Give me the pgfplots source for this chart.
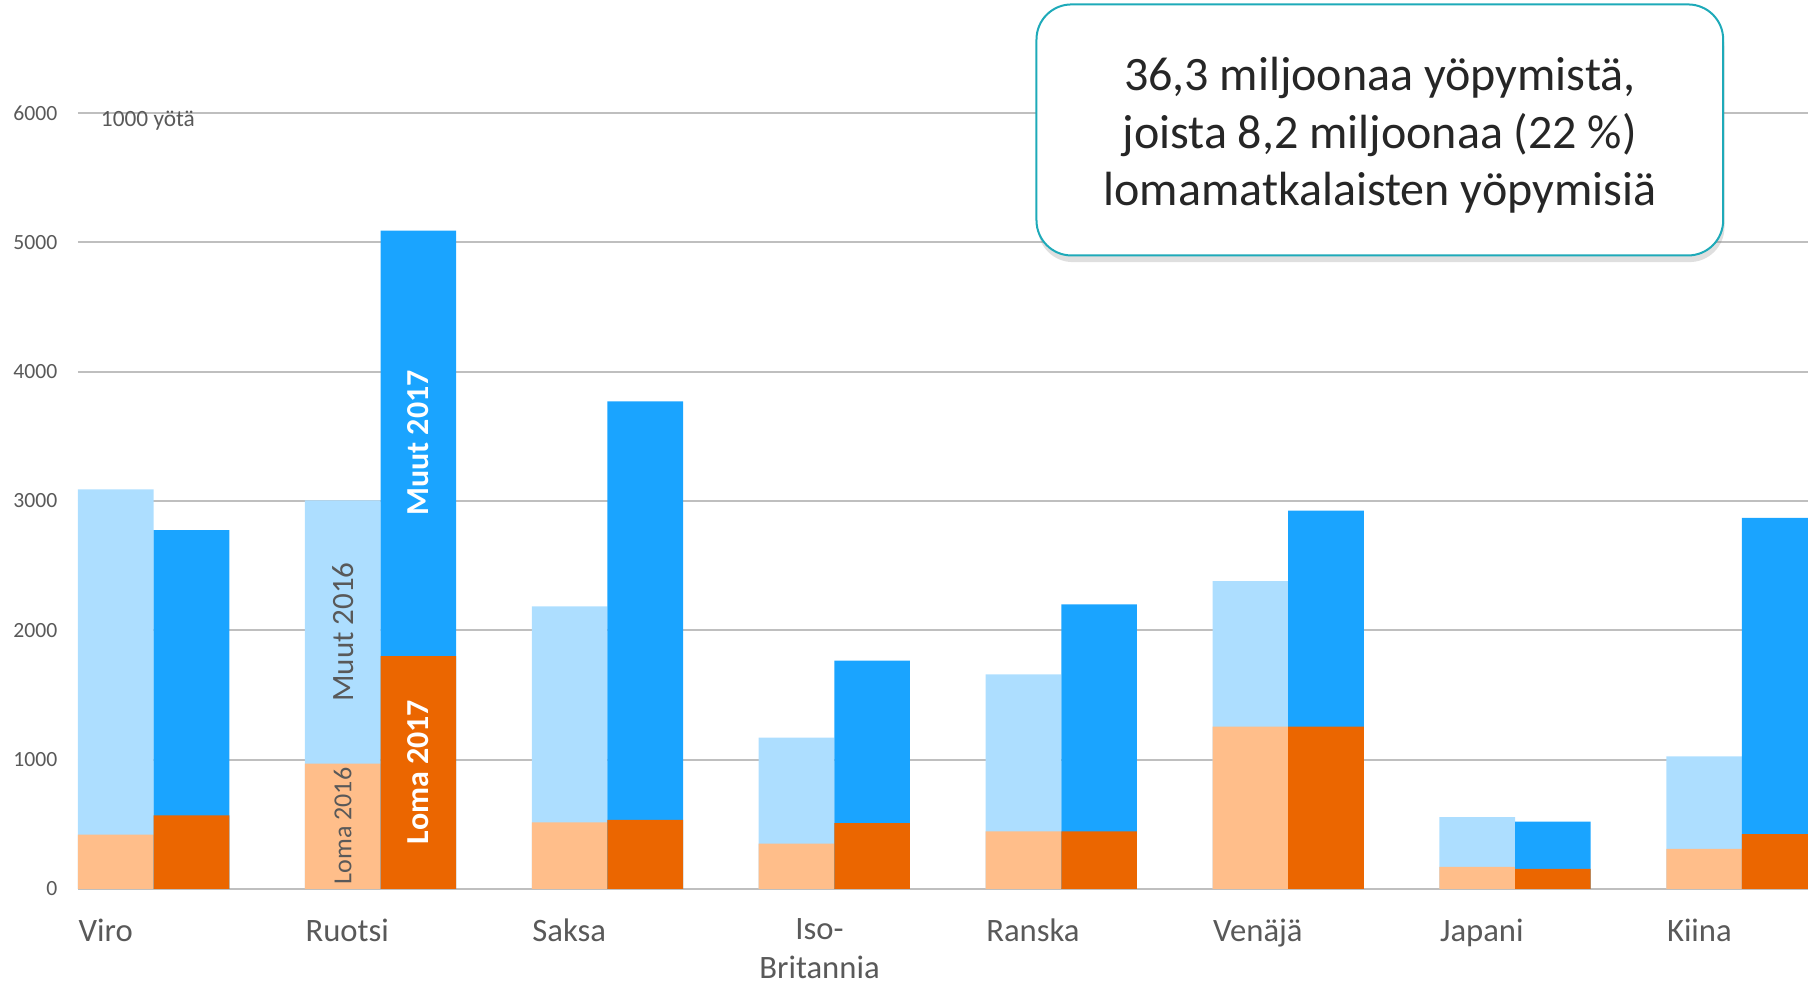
\documentclass[border=0pt]{standalone}
\usepackage{fontspec}
\setmainfont{Carlito}
\usepackage{pgfplots}
\pgfplotsset{compat=1.18}
\usetikzlibrary{shadows}

\definecolor{lblue}{RGB}{173,222,255}
\definecolor{dblue}{RGB}{26,164,255}
\definecolor{lorange}{RGB}{255,190,138}
\definecolor{dorange}{RGB}{235,102,0}
\definecolor{txtgray}{RGB}{89,89,89}
\definecolor{gridgray}{RGB}{191,191,191}
\definecolor{boxteal}{RGB}{30,170,185}

\begin{document}
\begin{tikzpicture}
\begin{axis}[
  name=ax, at={(0,0)}, anchor=south west,
  scale only axis, width=519pt, height=232.8pt,
  xmin=-0.3333, xmax=7.291, ymin=0, ymax=6000,
  clip mode=individual,
  axis line style={draw=none}, major tick length=0pt, tick style={draw=none},
  ytick={0,1000,...,6000},
  ymajorgrids, grid style={gridgray, line width=0.6pt},
  /pgf/number format/assume math mode=true,
  /pgf/number format/1000 sep={},
  yticklabel style={font=\fontsize{6.5}{7}\selectfont, text=txtgray,
                    anchor=east, inner sep=0pt, xshift=-6pt},
  xtick={-0.3333,0.6667,1.6667,2.6667,3.6667,4.6667,5.6667,6.6667},
  xticklabels={Viro,Ruotsi,Saksa,{Iso-\\Britannia},Ranska,Venäjä,Japani,Kiina},
  xticklabel style={font=\fontsize{9.8}{11.6}\selectfont, text=txtgray,
                    anchor=north west, align=center, inner sep=0pt, yshift=-8.7pt},
  ybar, bar width=0.3333,
]
% 2016: total (Loma + Muut) and Loma part
\addplot[fill=lblue, draw=none, bar shift=0pt] coordinates {
  (-0.1667,3090) (0.8333,3005) (1.8333,2185) (2.8333,1170)
  (3.8333,1660) (4.8333,2380) (5.8333,555) (6.8333,1025)};
\addplot[fill=lorange, draw=none, bar shift=0pt] coordinates {
  (-0.1667,420) (0.8333,970) (1.8333,515) (2.8333,350)
  (3.8333,445) (4.8333,1255) (5.8333,170) (6.8333,310)};
% 2017: total and Loma part
\addplot[fill=dblue, draw=none, bar shift=0pt] coordinates {
  (0.1667,2775) (1.1667,5090) (2.1667,3770) (3.1667,1765)
  (4.1667,2200) (5.1667,2925) (6.1667,520) (7.1667,2870)};
\addplot[fill=dorange, draw=none, bar shift=0pt] coordinates {
  (0.1667,570) (1.1667,1800) (2.1667,535) (3.1667,510)
  (4.1667,445) (5.1667,1255) (6.1667,155) (7.1667,425)};

\node[anchor=base west, inner sep=0pt, text=txtgray, font=\fontsize{7}{8}\selectfont]
  at (axis cs:-0.235,5892) {1000 yötä};

\node[rotate=90, text=txtgray, font=\fontsize{9.3}{10}\selectfont]
  at (axis cs:0.8333,1987) {Muut 2016};
\node[rotate=90, text=txtgray, font=\fontsize{7.8}{9}\selectfont]
  at (axis cs:0.8333,487) {Loma 2016};
\node[rotate=90, text=white, font=\bfseries\fontsize{9.6}{10}\selectfont]
  at (axis cs:1.1667,3449) {Muut 2017};
\node[rotate=90, text=white, font=\bfseries\fontsize{9.6}{10}\selectfont]
  at (axis cs:1.1667,905) {Loma 2017};

\node[draw=boxteal, line width=0.6pt, fill=white, rounded corners=10.5pt,
      minimum width=206pt, minimum height=75.3pt,
      drop shadow={shadow xshift=0.4pt, shadow yshift=-2pt, opacity=0.25}]
  at (axis cs:5.404,5869) {};
\node[align=center, text=black!85, font=\fontsize{14.4}{17.3}\selectfont, yshift=-1.6pt]
  at (axis cs:5.404,5869)
  {36,3 miljoonaa yöpymistä,\\joista 8,2 miljoonaa (22 \%)\\lomamatkalaisten yöpymisiä};
\end{axis}
\pgfresetboundingbox
\path ([shift={(-23.4pt,-28.2pt)}]ax.south west) rectangle ([shift={(0pt,33.9pt)}]ax.north east);
\end{tikzpicture}
\end{document}
